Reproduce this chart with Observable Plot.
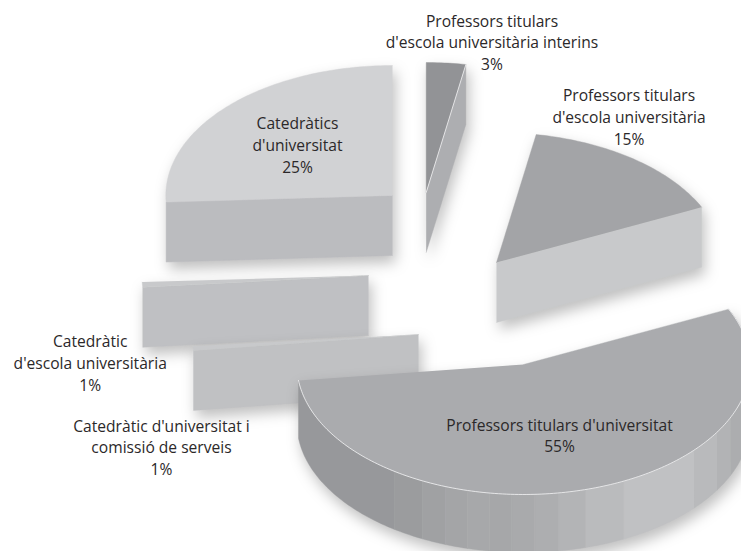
<!DOCTYPE html>
<html>
<head>
<meta charset="utf-8">
<script src="https://cdn.jsdelivr.net/npm/d3@7"></script>
<script src="https://cdn.jsdelivr.net/npm/@observablehq/plot@0.6"></script>
<style>
html,body{margin:0;padding:0;background:#fff;overflow:hidden}
svg{display:block}
</style>
</head>
<body>
<div id="chart"></div>
<script>
// --- data ---
const categories = [
  "Professors titulars\nd'escola universitària interins",
  "Professors titulars\nd'escola universitària",
  "Professors titulars d'universitat",
  "Catedràtic d'universitat i\ncomissió de serveis",
  "Catedràtic\nd'escola universitària",
  "Catedràtics\nd'universitat"
];
const labelledPercent = [3, 15, 55, 1, 1, 25];
const wedgeShare = [2.8, 15.2, 55.05, 0.5, 0.64, 25.81];

// --- layout and style, kept apart from the data ---
const radiusX = 226.7, radiusY = 130, depth = 60;
const apexX = [425.7, 496, 523, 418, 368, 392];
const apexY = [192, 262, 364, 334, 275, 195];
const topColor = ["#929396", "#a3a4a7", "#aaabae", "#c8c9cb", "#c8c9cb", "#d1d2d4"];
const wallColor = ["#adaeb1", "#c8c9cb", "#a8a9ab", "#c0c1c3", "#bfc0c3", "#bbbcbf"];
const labelX = [491.5, 628.5, 559, 161, 89.7, 297];
const labelY = [41, 115.5, 434, 446, 361.5, 143.5];
const bandEdges = [64.8, 114.2, 121.4, 131.2, 153.8, 164.1, 171.1, 177.2, 183, 188.6, 194.3, 200.2, 206.5, 214.8, 263];
const bandColors = ["#acadaf", "#b2b3b5", "#b9babc", "#c0c1c3", "#babbbd", "#b3b4b6", "#adaeb0", "#a9aaac", "#a6a7a9", "#a7a8aa", "#a4a5a7", "#a0a1a3", "#9b9c9e", "#97989b"];

const rad = (d) => d * Math.PI / 180;
let cum = 0;
const angles = wedgeShare.map((v) => { const a = cum; cum += v * 3.6; return [a, cum]; });
const onRim = (i, deg, dz = 0) => ({
  x: apexX[i] + radiusX * Math.sin(rad(deg)),
  y: apexY[i] - radiusY * Math.cos(rad(deg)) + dz
});
const apex = (i, dz = 0) => ({x: apexX[i], y: apexY[i] + dz});
const arc = (i, a, b, dz = 0) => {
  const n = Math.max(2, Math.ceil(Math.abs(b - a)));
  return d3.range(n + 1).map((k) => onRim(i, a + (b - a) * k / n, dz));
};
const poly = (id, fill, pts) => pts.map((p) => ({...p, id, fill}));
const topFace = (i) => poly("t" + i, topColor[i], [apex(i), ...arc(i, ...angles[i])]);

const endWall = (i) => {
  const e = angles[i][1];
  return poly("e" + i, wallColor[i], [apex(i), onRim(i, e), onRim(i, e, depth), apex(i, depth)]);
};
const startWall = (i) => {
  const s = angles[i][0];
  return poly("s" + i, wallColor[i], [apex(i), onRim(i, s), onRim(i, s, depth), apex(i, depth)]);
};
const rimBands = (i) => bandColors.flatMap((c, k) => {
  const a = Math.max(bandEdges[k], angles[i][0]), b = Math.min(bandEdges[k + 1], angles[i][1]);
  return poly("b" + k, c, [...arc(i, a, b), ...arc(i, b, a, depth - 2)]);
});

const sliceMark = (rows) => Plot.line(rows, {
  x: "x", y: "y", z: "id", fill: "fill", stroke: "fill", strokeWidth: 0.4
});

const slices = [
  [...endWall(0), ...topFace(0)],
  [...startWall(5), ...topFace(5)],
  [...endWall(1), ...topFace(1)],
  [...startWall(4), ...topFace(4)],
  [...startWall(3), ...topFace(3)],
  [...rimBands(2), ...topFace(2)]
];

const labels = categories.map((name, i) => ({
  text: name + "\n" + labelledPercent[i] + "%", x: labelX[i], y: labelY[i]
}));

const chart = Plot.plot({
  width: 741, height: 551,
  margin: 0,
  style: {background: "#fff", overflow: "hidden"},
  x: {domain: [0, 741], range: [0, 741], axis: null},
  y: {domain: [0, 551], range: [0, 551], axis: null},
  color: {type: "identity"},
  marks: [
    ...slices.map(sliceMark),
    Plot.line([onRim(0, angles[0][1]), apex(0)], {x: "x", y: "y", stroke: "#f4f4f5", strokeWidth: 0.8}),
    Plot.line(arc(2, angles[2][0], angles[2][1]), {x: "x", y: "y", stroke: "#f4f4f5", strokeWidth: 0.8}),
    Plot.text(labels, {
      x: "x", y: "y", text: "text", textAnchor: "middle", lineHeight: 1.39,
      fontSize: 15.6, fontFamily: "'Open Sans'", fill: "#2b2829"
    })
  ]
});
chart.querySelectorAll('g[aria-label="line"]').forEach((g, k) => {
  if (k < slices.length) g.style.filter = "drop-shadow(3px 7px 7px rgba(0,0,0,.25))";
});
document.getElementById("chart").appendChild(chart);
</script>
</body>
</html>
